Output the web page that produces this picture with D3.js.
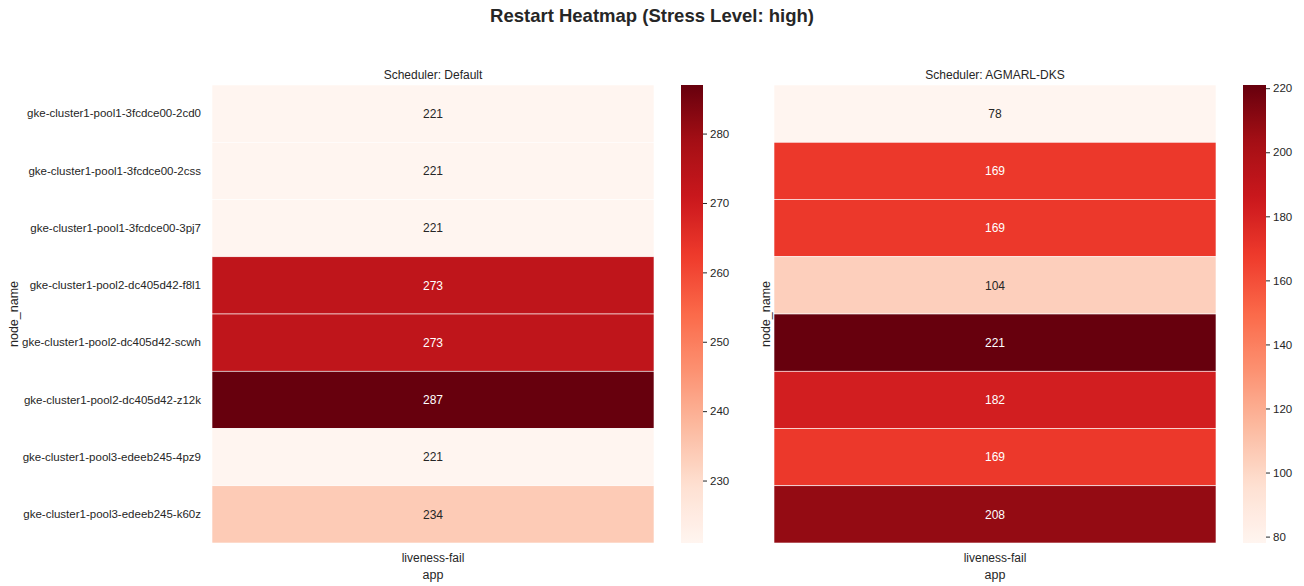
<!DOCTYPE html>
<html>
<head>
<meta charset="utf-8">
<script src="https://cdn.jsdelivr.net/npm/d3@7"></script>
<style>
  html, body { margin: 0; padding: 0; background: #fff; }
  svg { display: block; font-family: "Liberation Sans", Arial, sans-serif; }
</style>
</head>
<body>
<svg id="chart" width="1304" height="586"></svg>
<script>
// Node names (rows) and the single app column
const nodes = [
  "gke-cluster1-pool1-3fcdce00-2cd0",
  "gke-cluster1-pool1-3fcdce00-2css",
  "gke-cluster1-pool1-3fcdce00-3pj7",
  "gke-cluster1-pool2-dc405d42-f8l1",
  "gke-cluster1-pool2-dc405d42-scwh",
  "gke-cluster1-pool2-dc405d42-z12k",
  "gke-cluster1-pool3-edeeb245-4pz9",
  "gke-cluster1-pool3-edeeb245-k60z"
];
const apps = ["liveness-fail"];

// Restart counts per node under each scheduler
const restartsDefault = [221, 221, 221, 273, 273, 287, 221, 234];
const restartsAgmarl  = [78, 169, 169, 104, 221, 182, 169, 208];

// Colorbar tick values
const ticksDefault = [230, 240, 250, 260, 270, 280];
const ticksAgmarl  = [80, 100, 120, 140, 160, 180, 200, 220];

const schedulers = ["Default", "AGMARL-DKS"];

// ColorBrewer Reds, linearly interpolated
const redsStops = ["#fff5f0","#fee0d2","#fcbba1","#fc9272","#fb6a4a","#ef3b2c","#cb181d","#a50f15","#67000d"];
const reds = d3.scaleLinear()
  .domain(d3.range(redsStops.length).map(i => i / (redsStops.length - 1)))
  .range(redsStops)
  .interpolate(d3.interpolateRgb)
  .clamp(true);

const textDark = "#262626";
const svg = d3.select("#chart");

svg.append("text")
  .attr("x", 652).attr("y", 22)
  .attr("text-anchor", "middle")
  .attr("font-size", 18.5).attr("font-weight", "bold")
  .attr("fill", textDark)
  .text("Restart Heatmap (Stress Level: high)");

function luminance(c) {
  const rgb = d3.rgb(c);
  const f = v => { v /= 255; return v <= 0.03928 ? v / 12.92 : Math.pow((v + 0.055) / 1.055, 2.4); };
  return 0.2126 * f(rgb.r) + 0.7152 * f(rgb.g) + 0.0722 * f(rgb.b);
}

const panels = [
  { title: "Scheduler: " + schedulers[0], values: restartsDefault, ticks: ticksDefault,
    x0: 212, x1: 654, cb0: 681, cb1: 703, showY: true, yLabelX: 14 },
  { title: "Scheduler: " + schedulers[1], values: restartsAgmarl, ticks: ticksAgmarl,
    x0: 774, x1: 1216, cb0: 1243, cb1: 1266, showY: false, yLabelX: 766 }
];

const plotTop = 85, plotBottom = 543;

panels.forEach((p, pi) => {
  const g = svg.append("g");
  const x = d3.scaleBand().domain(apps).range([p.x0, p.x1]);
  const y = d3.scaleBand().domain(nodes).range([plotTop, plotBottom]);
  const vmin = d3.min(p.values), vmax = d3.max(p.values);
  const norm = d3.scaleLinear().domain([vmin, vmax]).range([0, 1]);
  const color = v => reds(norm(v));

  const cells = nodes.map((n, i) => ({ node: n, app: apps[0], value: p.values[i] }));

  g.selectAll("rect.cell").data(cells).enter().append("rect")
    .attr("class", "cell")
    .attr("x", d => x(d.app))
    .attr("y", d => y(d.node))
    .attr("width", x.bandwidth())
    .attr("height", y.bandwidth())
    .attr("fill", d => color(d.value))
    .attr("stroke", "#fff").attr("stroke-width", 0.6);

  g.selectAll("text.annot").data(cells).enter().append("text")
    .attr("class", "annot")
    .attr("x", d => x(d.app) + x.bandwidth() / 2)
    .attr("y", d => y(d.node) + y.bandwidth() / 2)
    .attr("dy", "0.35em")
    .attr("text-anchor", "middle")
    .attr("font-size", 12)
    .attr("fill", d => luminance(color(d.value)) < 0.408 ? "#ffffff" : textDark)
    .text(d => d.value);

  // subplot title
  g.append("text")
    .attr("x", (p.x0 + p.x1) / 2).attr("y", 79)
    .attr("text-anchor", "middle")
    .attr("font-size", 12).attr("fill", textDark)
    .text(p.title);

  // x axis labels
  const xAxis = g.append("g").attr("transform", `translate(0,${plotBottom})`)
    .call(d3.axisBottom(x).tickSize(0).tickPadding(10));
  xAxis.select(".domain").remove();
  xAxis.selectAll("text").attr("font-size", 12).attr("fill", textDark)
    .attr("font-family", "Liberation Sans, Arial, sans-serif");
  g.append("text")
    .attr("x", (p.x0 + p.x1) / 2).attr("y", 579)
    .attr("text-anchor", "middle")
    .attr("font-size", 12.5).attr("fill", textDark)
    .text("app");

  // y axis labels
  if (p.showY) {
    const yAxis = g.append("g").attr("transform", `translate(${p.x0},0)`)
      .call(d3.axisLeft(y).tickSize(0).tickPadding(11));
    yAxis.select(".domain").remove();
    yAxis.selectAll("text").attr("font-size", 11.5).attr("fill", textDark)
      .attr("font-family", "Liberation Sans, Arial, sans-serif");
  }
  g.append("text")
    .attr("transform", `translate(${p.yLabelX + 4},${(plotTop + plotBottom) / 2}) rotate(-90)`)
    .attr("text-anchor", "middle")
    .attr("font-size", 12.5).attr("fill", textDark)
    .text("node_name");

  // colorbar
  const gradId = "grad" + pi;
  const grad = svg.append("defs").append("linearGradient")
    .attr("id", gradId).attr("x1", 0).attr("y1", 1).attr("x2", 0).attr("y2", 0);
  d3.range(0, 1.0001, 0.02).forEach(t => {
    grad.append("stop").attr("offset", t).attr("stop-color", reds(t));
  });
  const cbScale = d3.scaleLinear().domain([vmin, vmax]).range([plotBottom, plotTop]);
  g.append("rect")
    .attr("x", p.cb0).attr("y", plotTop)
    .attr("width", p.cb1 - p.cb0).attr("height", plotBottom - plotTop)
    .attr("fill", `url(#${gradId})`);
  const cbAxis = g.append("g").attr("transform", `translate(${p.cb1},0)`)
    .call(d3.axisRight(cbScale).tickValues(p.ticks).tickSize(4).tickPadding(3));
  cbAxis.select(".domain").remove();
  cbAxis.selectAll("line").attr("stroke", textDark).attr("stroke-width", 1);
  cbAxis.selectAll("text").attr("font-size", 11.5).attr("fill", textDark)
    .attr("font-family", "Liberation Sans, Arial, sans-serif");
});
</script>
</body>
</html>
